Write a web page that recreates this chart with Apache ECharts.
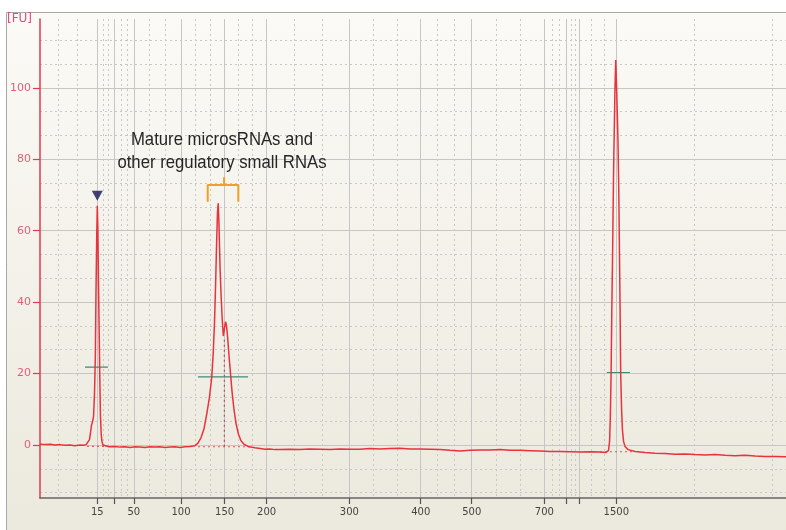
<!DOCTYPE html>
<html><head><meta charset="utf-8">
<script src="https://cdn.jsdelivr.net/npm/echarts@6/dist/echarts.min.js"></script>
<style>html,body{margin:0;padding:0;background:#fff}#c{width:786px;height:530px}</style>
</head><body><div id="c"></div>
<script>
// Ladder: migration time (s) of each size marker and its label (nt)
const ladderTimes  = [22.82, 23.95, 25.25, 28.40, 31.31, 34.11, 39.62, 44.38, 47.78, 52.62, 54.11, 54.95, 57.42];
const ladderLabels = ['15', '', '50', '100', '150', '200', '300', '400', '500', '700', '', '', '1500'];
const ladderEdges  = [18.89, 73.0];
const yTicks = [0, 20, 40, 60, 80, 100];
const yMinor = [-13.33, -6.67, 6.67, 13.33, 26.67, 33.33, 46.67, 53.33, 66.67, 73.33, 86.67, 93.33, 106.67, 113.33];

// Electropherogram trace: time (s) and fluorescence (FU)
const timeS = [19.00,19.33,19.67,20.00,20.33,20.67,21.00,21.33,21.67,21.90,22.07,22.20,22.30,22.37,22.43,22.50,22.57,22.63,22.69,22.73,22.78,22.82,22.86,22.90,22.95,22.99,23.03,23.08,23.13,23.20,23.33,23.60,24.00,24.33,24.67,25.00,25.33,25.67,26.00,26.33,26.67,27.00,27.33,27.67,28.00,28.33,28.67,29.00,29.33,29.53,29.73,29.93,30.13,30.30,30.45,30.55,30.63,30.70,30.77,30.83,30.88,30.93,31.00,31.07,31.15,31.22,31.29,31.37,31.43,31.50,31.60,31.70,31.80,31.93,32.07,32.23,32.40,32.60,32.87,33.33,33.67,34.00,34.33,34.67,35.00,35.67,36.33,37.00,37.67,38.33,39.00,39.67,40.33,41.00,41.67,42.33,43.00,43.67,44.33,45.00,45.67,46.33,47.00,47.67,48.33,49.00,49.67,50.33,51.00,51.67,52.33,53.00,53.67,54.33,55.00,55.67,56.33,56.73,56.90,56.97,57.02,57.07,57.12,57.18,57.23,57.28,57.33,57.38,57.43,57.49,57.53,57.58,57.62,57.67,57.71,57.77,57.83,57.90,58.00,58.20,58.67,59.33,60.00,60.67,61.33,62.00,62.67,63.33,64.00,64.67,65.33,66.00,66.67,67.33,68.00,68.73];
const fu = [0.3,0.1,0.2,0.0,0.1,-0.1,0.0,-0.2,0.0,-0.1,0.1,0.4,1.5,3.5,5.5,6.5,8.0,14,25,42,58,67,60,45,30,18,8,3,1,0,-0.4,-0.5,-0.4,-0.6,-0.5,-0.7,-0.5,-0.6,-0.7,-0.5,-0.6,-0.5,-0.7,-0.6,-0.5,-0.7,-0.5,-0.4,-0.2,0.5,2,4.5,9,13.5,19,26,34,44,56,65,67.7,62,50,42,35,30.5,32.5,34.5,33.5,30.5,25,20,15,10,6,3,1.2,0.2,-0.4,-0.8,-1.0,-1.2,-1.1,-1.3,-1.3,-1.2,-1.3,-1.1,-1.2,-1.3,-1.1,-1.2,-1.2,-1.0,-1.1,-1.0,-0.9,-1.1,-1.1,-1.2,-1.3,-1.5,-1.7,-1.5,-1.4,-1.4,-1.3,-1.5,-1.5,-1.6,-1.7,-1.8,-1.8,-1.9,-2.0,-1.9,-2.0,-2.1,-1.5,1,8,20,38,57,75,88,100,107.8,101,92,85,72,57,38,20,10,4,1,-0.4,-1.3,-1.8,-2.1,-2.3,-2.4,-2.6,-2.5,-2.7,-2.8,-2.7,-2.9,-3.0,-2.9,-3.1,-3.2,-3.2,-3.3];

// Peak-table annotations
const peakWidthLevel = [21.8, 19.1, 20.3];
const peakWidthFrom  = [22.00, 29.53, 56.78];
const peakWidthTo    = [23.53, 32.87, 58.33];
const peakBaseLevel  = [-0.4, -0.5, -1.9];
const peakBaseFrom   = [22.13, 29.53, 56.33];
const peakBaseTo     = [23.53, 33.00, 58.47];
const splitTime = 31.29, splitTop = 30.0;
const markerTime = 22.82, markerFU = 69.8;
// Bracket over the small RNA region (time, FU)
const bracketT = [30.18, 30.18, 32.22, 32.22];
const bracketV = [68.15, 72.83, 72.83, 68.15];
const bracketTickT = 31.27, bracketTickV = [72.83, 74.99];
const noteText = ['Mature microsRNAs and', 'other regulatory small RNAs'];
const noteT = 31.13, noteV = 82.2;

const X_MIN = 19, X_MAX = 68.73, Y_MIN = -14.85, Y_MAX = 119.3;

const allTicks = [ladderEdges[0]].concat(ladderTimes, [ladderEdges[1]]);
const xMinor = [];
for (let i = 0; i < allTicks.length - 1; i++) {
  const a = allTicks[i], b = allTicks[i + 1];
  xMinor.push(a + (b - a) / 3, a + 2 * (b - a) / 3);
}
function labelFor(v) {
  let best = -1, bd = 1e9;
  ladderTimes.forEach((t, i) => { const d = Math.abs(t - v); if (d < bd) { bd = d; best = i; } });
  return bd < 0.01 ? ladderLabels[best] : '';
}

const chart = echarts.init(document.getElementById('c'), null, {renderer: 'canvas'});
const trace = timeS.map((t, i) => [t, fu[i]]);
const series = [];
series.push({
  type: 'line', data: trace, symbol: 'none', xAxisIndex: 0, yAxisIndex: 0,
  lineStyle: {color: '#e8323c', width: 1.5}, z: 5, animation: false
});
for (let i = 0; i < 3; i++) {
  series.push({type: 'line', symbol: 'none', animation: false, z: 4,
    data: [[peakWidthFrom[i], peakWidthLevel[i]], [peakWidthTo[i], peakWidthLevel[i]]],
    lineStyle: {color: '#3f8a76', width: 1.2}});
  series.push({type: 'line', symbol: 'none', animation: false, z: 3,
    data: [[peakBaseFrom[i], peakBaseLevel[i]], [peakBaseTo[i], peakBaseLevel[i]]],
    lineStyle: {color: '#d85a5a', width: 1.2, type: [2, 3]}});
}
series.push({type: 'line', symbol: 'none', animation: false, z: 3,
  data: [[splitTime, peakBaseLevel[1]], [splitTime, splitTop]],
  lineStyle: {color: '#b05060', width: 1.2, type: [2, 3]}});
series.push({type: 'line', symbol: 'none', animation: false, z: 6,
  data: bracketT.map((t, i) => [t, bracketV[i]]),
  lineStyle: {color: '#f0a028', width: 2}});
series.push({type: 'line', symbol: 'none', animation: false, z: 6,
  data: [[bracketTickT, bracketTickV[0]], [bracketTickT, bracketTickV[1]]],
  lineStyle: {color: '#f0a028', width: 2}});
series.push({type: 'scatter', animation: false, z: 7,
  data: [[markerTime, markerFU]], symbol: 'triangle', symbolRotate: 180, symbolSize: [11, 10],
  itemStyle: {color: '#14145a'}});

const baseGraphic = [
  {id: 'bg', type: 'rect', z: -100, silent: true, shape: {x: 6.5, y: 12.5, width: 800, height: 530},
    style: {fill: new echarts.graphic.LinearGradient(0, 0, 0, 1, [
      {offset: 0, color: '#fbfaf6'}, {offset: 1, color: '#ebe8dc'}]),
      stroke: '#a8a8a8', lineWidth: 1}},
  {id: 'fu', type: 'text', left: 7, top: 13, z: 10,
    style: {text: '[FU]', fill: '#d85078', font: '12px "DejaVu Sans"'}}
];

chart.setOption({
  animation: false,
  backgroundColor: '#ffffff',
  graphic: baseGraphic,
  grid: {left: 40, right: 0, top: 19, bottom: 32, containLabel: false},
  xAxis: [
    {type: 'value', min: X_MIN, max: X_MAX, position: 'bottom',
      axisLine: {show: true, onZero: false, lineStyle: {color: '#666', width: 1.5}},
      axisTick: {show: true, customValues: ladderTimes, length: 6, lineStyle: {color: '#555', width: 1.2}},
      axisLabel: {show: true, customValues: ladderTimes, formatter: labelFor, margin: 9,
        color: '#444', fontFamily: '"DejaVu Sans"', fontSize: 10},
      splitLine: {show: true, lineStyle: {color: '#c6c6c6', width: 1}}},
    {type: 'value', min: X_MIN, max: X_MAX, position: 'bottom',
      axisLine: {show: false}, axisTick: {show: false, customValues: xMinor},
      axisLabel: {show: false, customValues: xMinor},
      splitLine: {show: true, lineStyle: {color: '#c8c8c8', width: 1, type: [2, 3]}}}
  ],
  yAxis: [
    {type: 'value', min: Y_MIN, max: Y_MAX, position: 'left',
      axisLine: {show: true, onZero: false, lineStyle: {color: '#e03a50', width: 1.5}},
      axisTick: {show: true, customValues: yTicks, length: 7, lineStyle: {color: '#e03a50', width: 1.2}},
      axisLabel: {show: true, customValues: yTicks, margin: 9, color: '#e0607a',
        fontFamily: '"DejaVu Sans"', fontSize: 11},
      splitLine: {show: true, lineStyle: {color: '#c6c6c6', width: 1}}},
    {type: 'value', min: Y_MIN, max: Y_MAX, position: 'left',
      axisLine: {show: false}, axisTick: {show: false, customValues: yMinor},
      axisLabel: {show: false, customValues: yMinor},
      splitLine: {show: true, lineStyle: {color: '#c8c8c8', width: 1, type: [2, 3]}}}
  ],
  series: series
});

// Annotation text placed at its data position, drawn condensed like the original
const p = chart.convertToPixel({xAxisIndex: 0, yAxisIndex: 0}, [noteT, noteV]);
chart.setOption({
  graphic: baseGraphic.concat([{
    id: 'note', type: 'text', x: p[0], y: p[1], scaleX: 0.88, scaleY: 1, z: 20,
    style: {text: noteText.join('\n'), x: 0, y: 0, align: 'center', verticalAlign: 'middle',
      font: '19px "Liberation Sans", Arial, sans-serif', lineHeight: 23, fill: '#262626'}
  }])
});
</script>
</body></html>
